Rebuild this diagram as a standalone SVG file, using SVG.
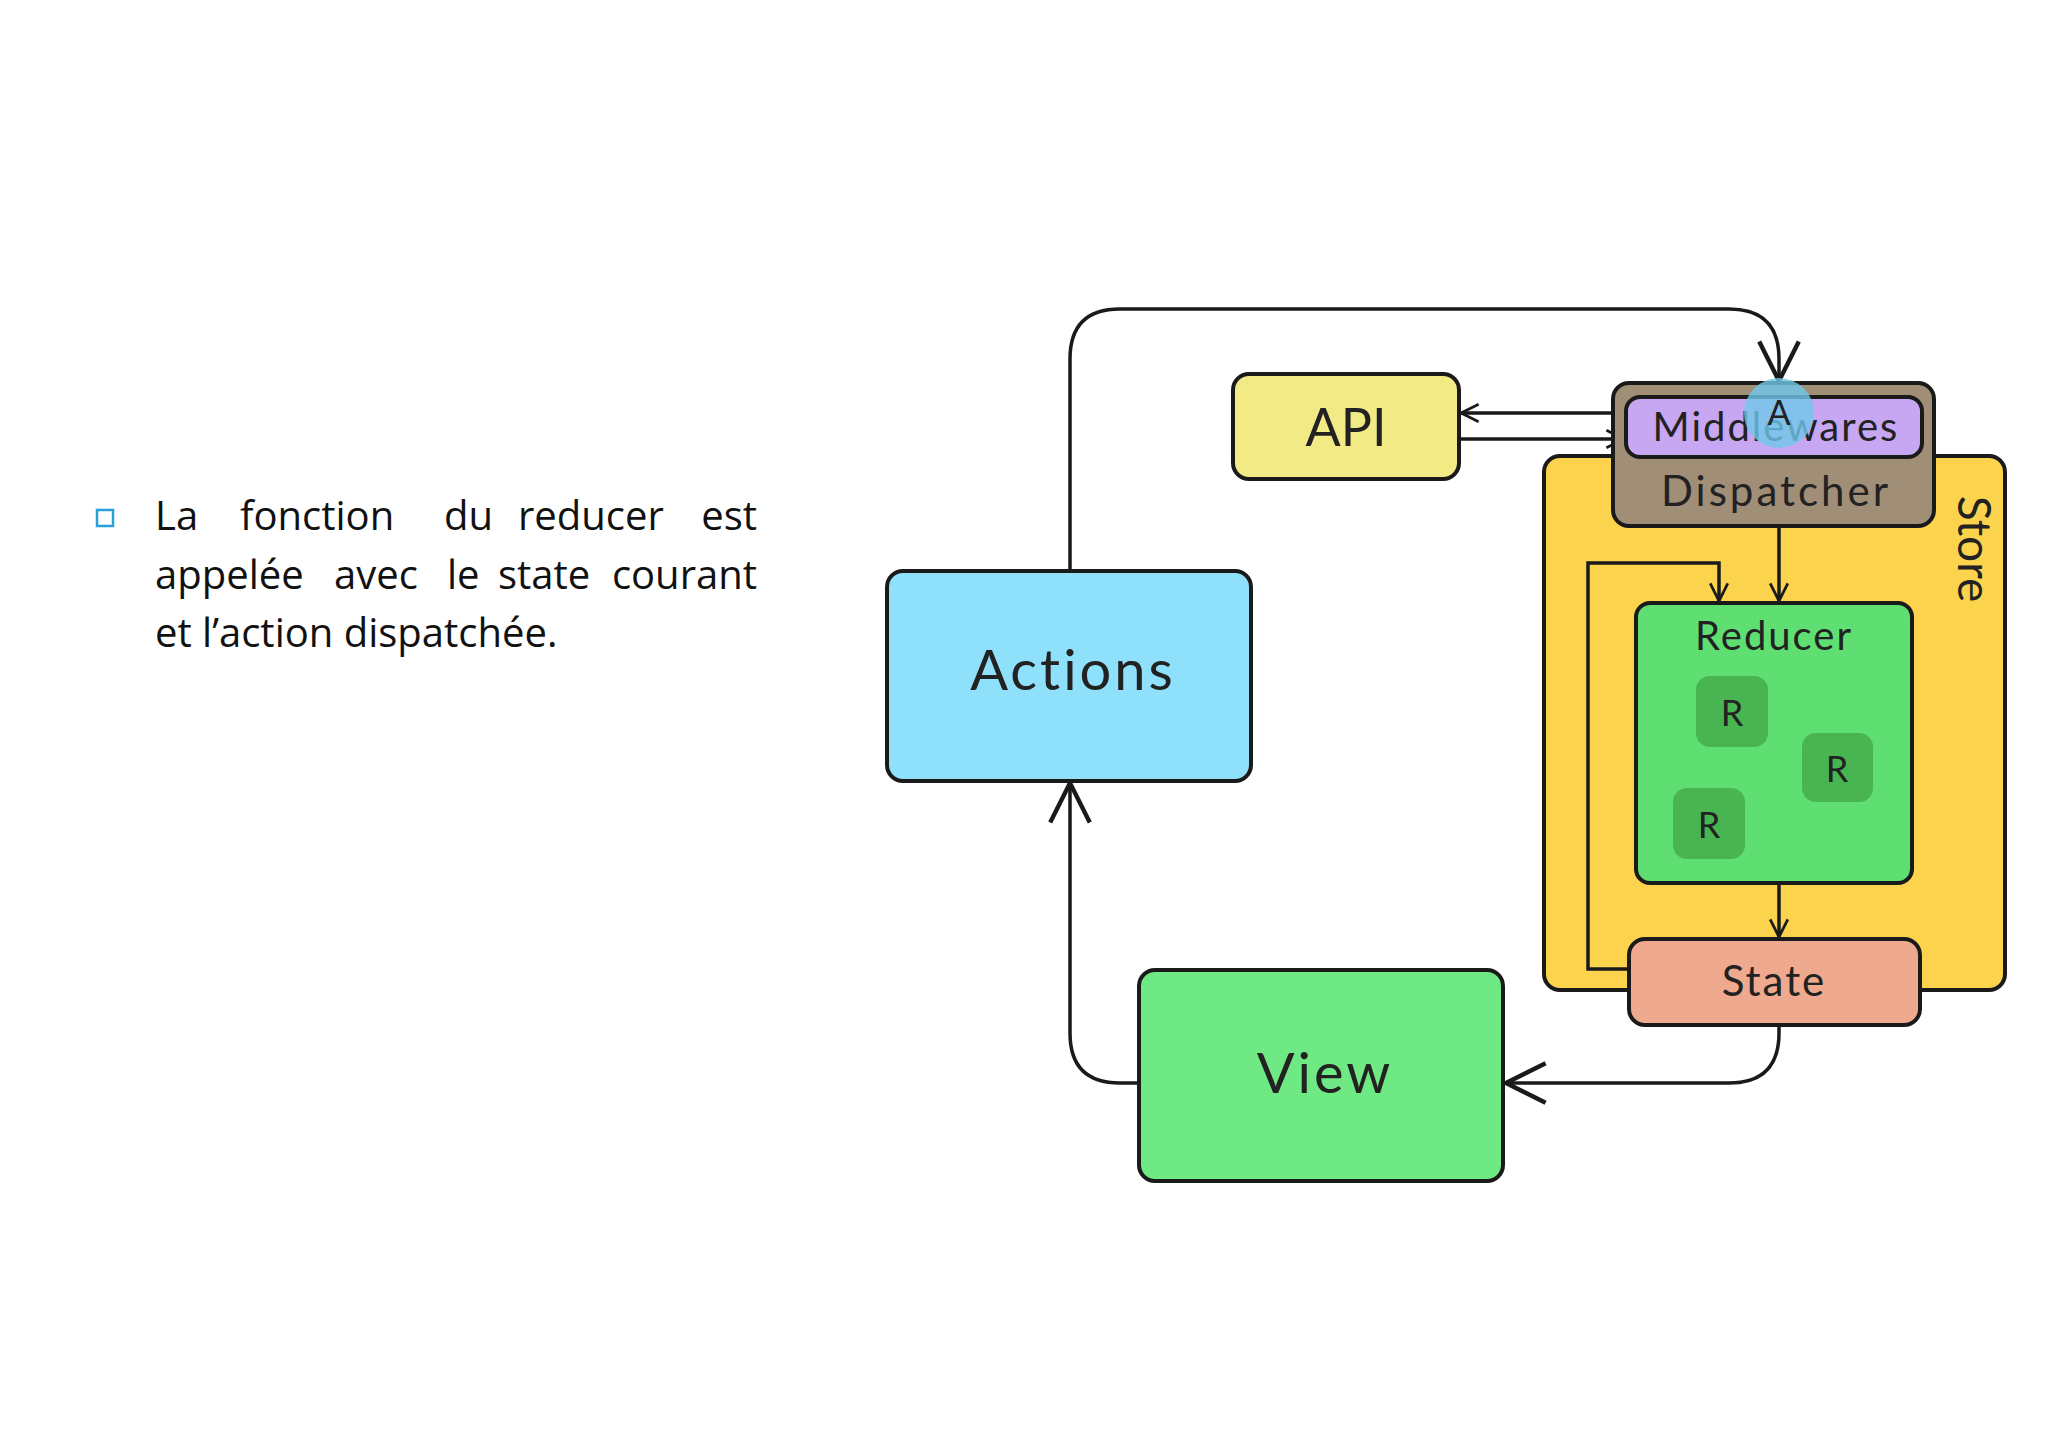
<svg xmlns="http://www.w3.org/2000/svg" width="2048" height="1447" viewBox="0 0 2048 1447">
<style>
.b{stroke:#1a1a1a;stroke-width:4}
.c{fill:none;stroke:#1a1a1a;stroke-width:3.5}
.t{font-family:Lato,"Open Sans",sans-serif;fill:#222}
.p{font-family:"Open Sans","DejaVu Sans",sans-serif;font-size:40px;fill:#111}
</style>
<defs>
<marker id="big" viewBox="0 0 20 20" refX="18" refY="10" markerWidth="12" markerHeight="12" markerUnits="userSpaceOnUse" orient="auto"><path d="M2,1 L18,10 L2,19" fill="none" stroke="#1a1a1a" stroke-width="2"/></marker>
<marker id="lg" viewBox="0 0 40 40" refX="38" refY="20" markerWidth="44" markerHeight="44" markerUnits="userSpaceOnUse" orient="auto"><path d="M2,2 L38,20 L2,38" fill="none" stroke="#1a1a1a" stroke-width="4"/></marker>
<marker id="sm" viewBox="0 0 20 20" refX="18" refY="10" markerWidth="22" markerHeight="22" markerUnits="userSpaceOnUse" orient="auto"><path d="M2,2 L18,10 L2,18" fill="none" stroke="#1a1a1a" stroke-width="2.5"/></marker>
</defs>
<rect width="2048" height="1447" fill="#fff"/>
<g id="text">
<rect x="97" y="510" width="16" height="16" fill="none" stroke="#2aa0d8" stroke-width="2.5"/>
<text class="p" x="155" y="530">La</text><text class="p" x="240" y="530">fonction</text><text class="p" x="444" y="530">du</text><text class="p" x="518" y="530">reducer</text><text class="p" x="757" y="530" text-anchor="end">est</text>
<text class="p" x="155" y="589">appelée</text><text class="p" x="334" y="589">avec</text><text class="p" x="447" y="589">le</text><text class="p" x="498" y="589">state</text><text class="p" x="757" y="589" text-anchor="end">courant</text>
<text class="p" x="155" y="647">et l’action dispatchée.</text>
</g>
<g id="store"><rect x="1544" y="456" width="461" height="534" rx="16" fill="#fcd34d" class="b"/>
<text class="t" font-size="46" transform="translate(1958,549) rotate(90)" text-anchor="middle">Store</text></g>
<g id="connectors">
<path class="c" d="M1070,571 V359 Q1070,309 1120,309 H1729 Q1779,309 1779,359 V381" marker-end="url(#lg)"/>
<path class="c" d="M1139,1083 H1120 Q1070,1083 1070,1033 V783" marker-end="url(#lg)"/>
<path class="c" d="M1779,1025 V1033 Q1779,1083 1729,1083 H1506" marker-end="url(#lg)"/>
<path class="c" d="M1626,413 H1461" marker-end="url(#sm)"/>
<path class="c" d="M1459,439 H1624" marker-end="url(#sm)"/>
<path class="c" d="M1779,526 V601" marker-end="url(#sm)"/>
<path class="c" d="M1629,969 H1588 V563 H1719 V601" marker-end="url(#sm)"/>
<path class="c" d="M1779,883 V937" marker-end="url(#sm)"/>
</g>
<g id="actions"><rect x="887" y="571" width="364" height="210" rx="16" fill="#8fe0fb" class="b"/><text class="t" x="1073" y="690" font-size="56" text-anchor="middle" letter-spacing="3">Actions</text></g>
<g id="api"><rect x="1233" y="374" width="226" height="105" rx="16" fill="#f2ea84" class="b"/><text class="t" x="1346" y="446" font-size="52" text-anchor="middle">API</text></g>
<g id="view"><rect x="1139" y="970" width="364" height="211" rx="16" fill="#6fe984" class="b"/><text class="t" x="1325" y="1093" font-size="56" text-anchor="middle" letter-spacing="3">View</text></g>
<g id="dispatcher"><rect x="1613" y="383" width="321" height="143" rx="16" fill="#a08e77" class="b"/><text class="t" x="1776" y="506" font-size="42" text-anchor="middle" letter-spacing="3">Dispatcher</text></g>
<g id="middlewares"><rect x="1626" y="397" width="296" height="60" rx="14" fill="#c7a6f2" class="b"/><text class="t" x="1776" y="441" font-size="40" text-anchor="middle" letter-spacing="2">Middlewares</text></g>
<g id="actionA"><circle cx="1779" cy="413" r="35" fill="#6fc8ea" fill-opacity="0.8"/><text class="t" x="1779" y="425" font-size="34" text-anchor="middle">A</text></g>
<g id="reducer"><rect x="1636" y="603" width="276" height="280" rx="14" fill="#5fde72" class="b"/><text class="t" x="1774" y="650" font-size="40" text-anchor="middle" letter-spacing="2">Reducer</text>
<rect x="1696" y="676" width="72" height="71" rx="14" fill="#48b552"/><text class="t" x="1732" y="726" font-size="36" text-anchor="middle">R</text>
<rect x="1802" y="733" width="71" height="69" rx="14" fill="#48b552"/><text class="t" x="1837" y="782" font-size="36" text-anchor="middle">R</text>
<rect x="1673" y="788" width="72" height="71" rx="14" fill="#48b552"/><text class="t" x="1709" y="838" font-size="36" text-anchor="middle">R</text></g>
<g id="state"><rect x="1629" y="939" width="291" height="86" rx="16" fill="#eea98e" class="b"/><text class="t" x="1774" y="996" font-size="42" text-anchor="middle" letter-spacing="2">State</text></g>
</svg>
